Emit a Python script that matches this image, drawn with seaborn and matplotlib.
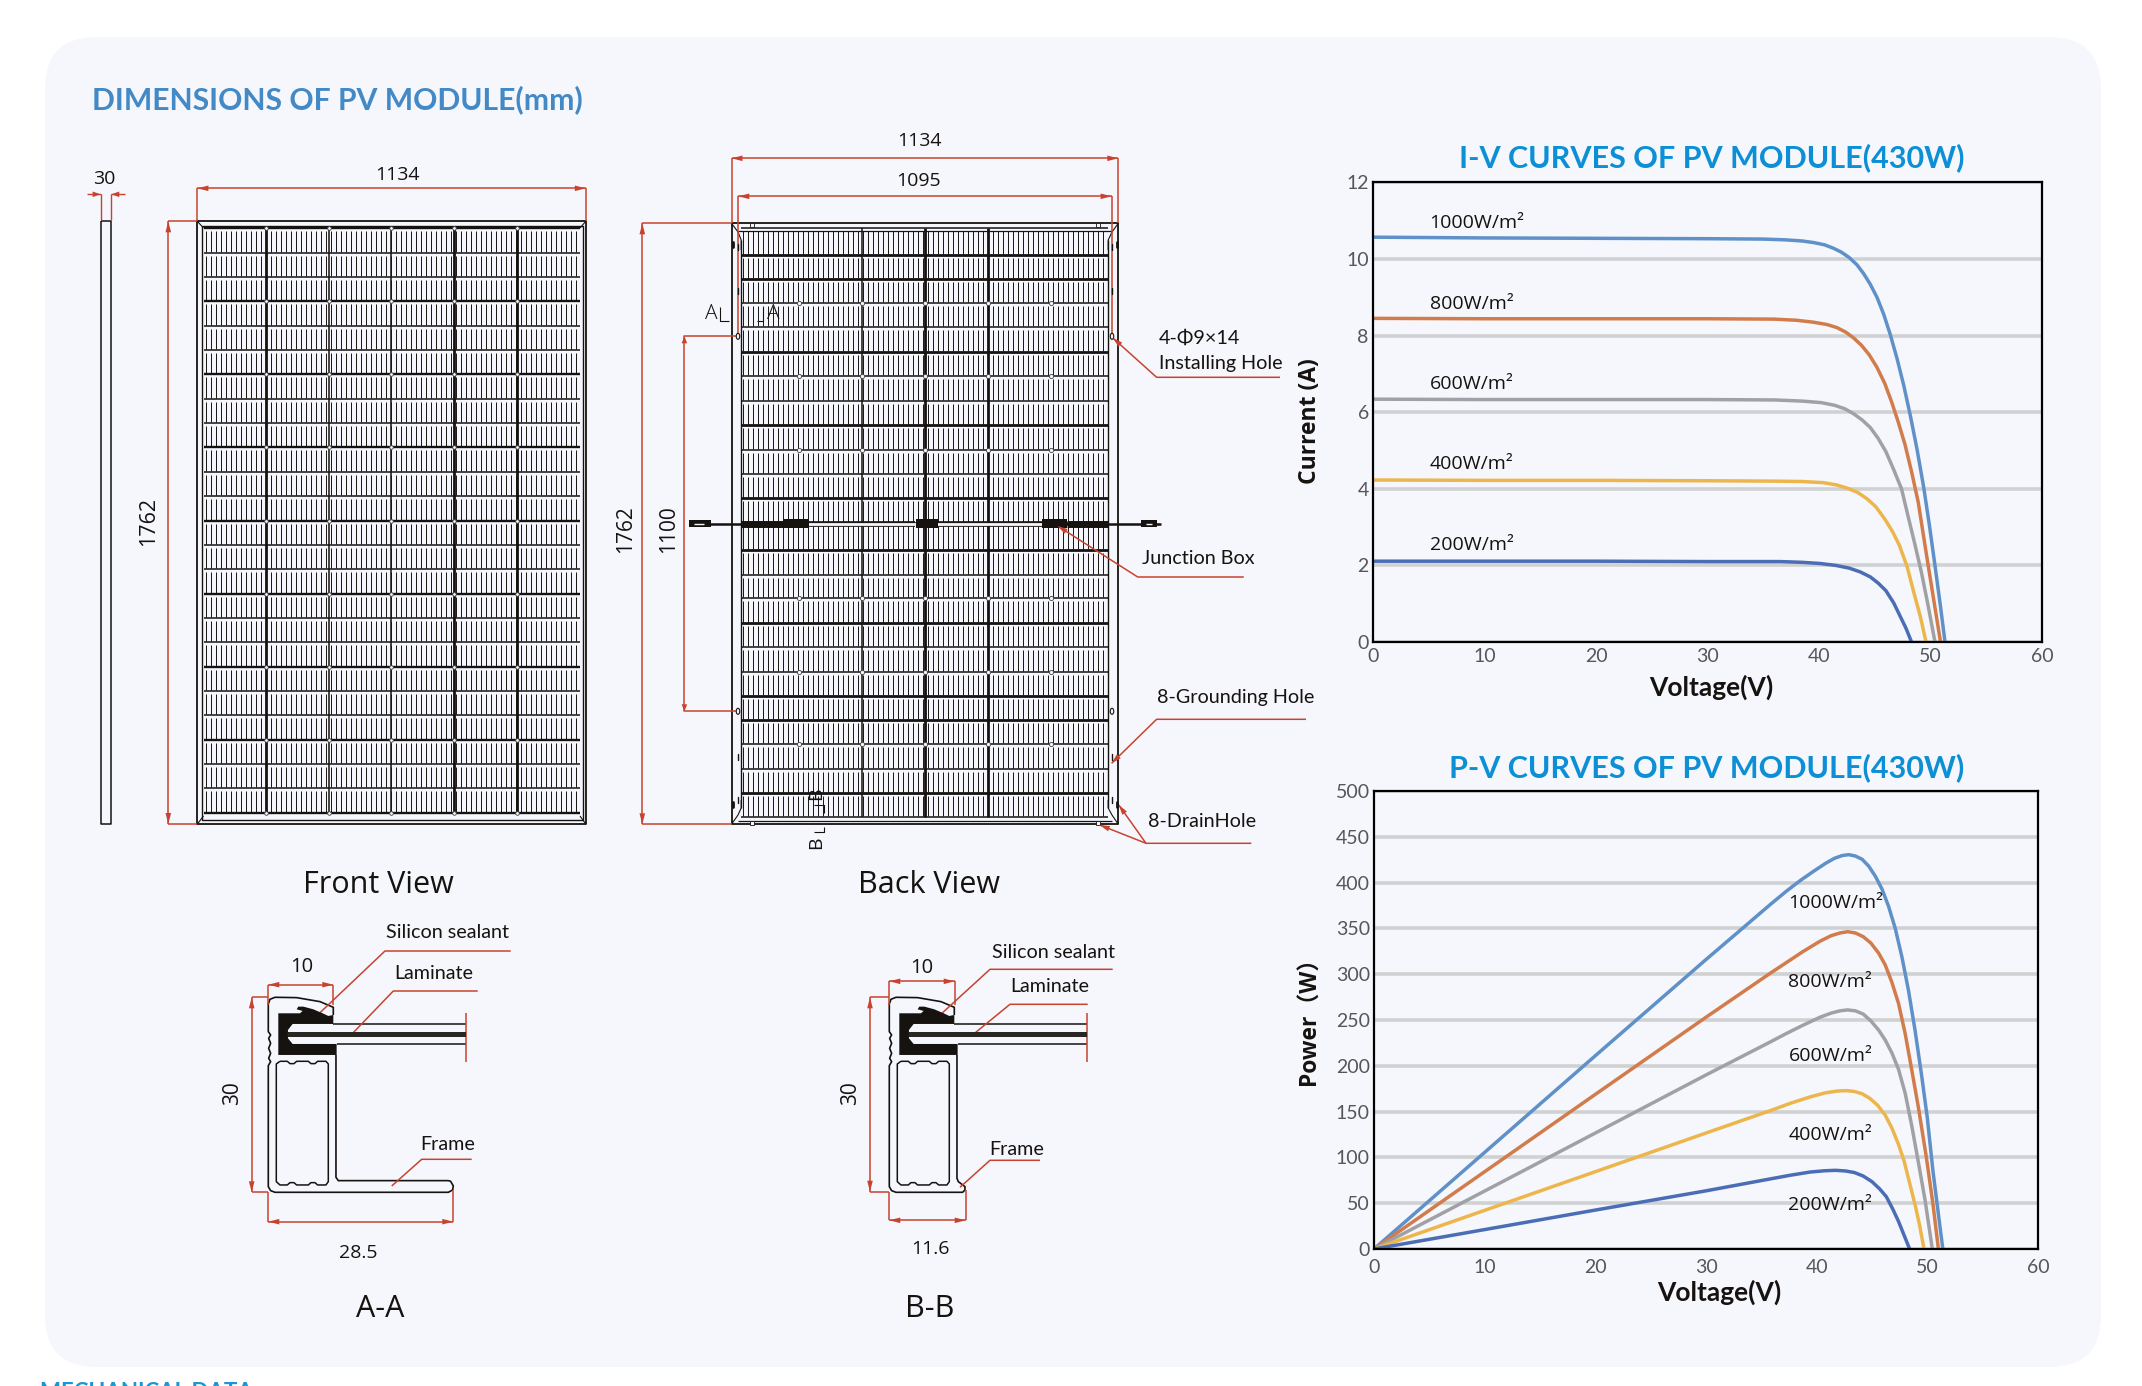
import numpy as np
import pandas as pd
import seaborn as sns
import matplotlib
matplotlib.use("Agg")
import matplotlib.pyplot as plt
from matplotlib.patches import FancyBboxPatch, Ellipse

# I-V curves
IRRADIANCE = ["1000W/m²", "800W/m²", "600W/m²", "400W/m²", "200W/m²"]
COLORS = ["#5f91c8", "#d27c4b", "#a0a1a4", "#edb64c", "#4b6db6"]

IV_V_1000 = [0, 10, 20, 30, 35, 37, 38.5, 39.5, 40.5, 41.3, 42, 42.7, 43.4, 44, 44.6, 45.2, 45.8, 46.4, 47, 47.6, 48.2, 48.8, 49.4, 49.9, 50.4, 50.9, 51.3]
IV_I_1000 = [10.57, 10.55, 10.54, 10.53, 10.52, 10.50, 10.47, 10.43, 10.37, 10.28, 10.18, 10.04, 9.85, 9.62, 9.34, 9.00, 8.56, 8.02, 7.40, 6.70, 5.90, 5.02, 4.02, 3.05, 2.0, 0.92, 0]
IV_V_800 = [0, 10, 20, 30, 36, 38, 39.5, 40.7, 41.6, 42.4, 43.1, 43.8, 44.5, 45.2, 45.9, 46.5, 47.1, 47.7, 48.3, 48.9, 49.6, 50.3, 50.9]
IV_I_800 = [8.45, 8.44, 8.44, 8.44, 8.43, 8.40, 8.35, 8.29, 8.21, 8.09, 7.94, 7.75, 7.50, 7.17, 6.75, 6.28, 5.75, 5.17, 4.45, 3.65, 2.35, 1.08, 0]
IV_V_600 = [0, 10, 20, 30, 36, 38.5, 40.2, 41.4, 42.3, 43.1, 43.9, 44.6, 45.3, 46, 46.7, 47.4, 48, 48.6, 49.2, 49.8, 50.4]
IV_I_600 = [6.34, 6.33, 6.33, 6.33, 6.32, 6.29, 6.25, 6.18, 6.09, 5.96, 5.79, 5.60, 5.32, 4.97, 4.50, 4.0, 3.27, 2.55, 1.80, 0.93, 0]
IV_V_400 = [0, 10, 20, 30, 36, 38.5, 40.4, 41.6, 42.6, 43.5, 44.3, 45.1, 45.9, 46.6, 47.2, 47.9, 48.5, 49.1, 49.6]
IV_I_400 = [4.23, 4.22, 4.22, 4.21, 4.20, 4.19, 4.16, 4.10, 4.01, 3.90, 3.74, 3.53, 3.21, 2.88, 2.53, 1.97, 1.30, 0.65, 0]
IV_V_200 = [0, 10, 20, 30, 36.5, 38.5, 40.1, 41.5, 42.7, 43.7, 44.6, 45.3, 46, 46.7, 47.3, 47.8, 48.3]
IV_I_200 = [2.11, 2.11, 2.11, 2.10, 2.10, 2.08, 2.05, 2.00, 1.93, 1.83, 1.70, 1.54, 1.34, 1.02, 0.66, 0.36, 0]

# P-V curves
PV_V_1000 = [0, 10, 20, 30, 33, 35.8, 37.3, 38.6, 39.8, 40.8, 41.6, 42.3, 42.9, 43.5, 44.1, 44.7, 45.3, 45.9, 46.5, 47.1, 47.7, 48.3, 48.9, 49.5, 50, 50.5, 51, 51.4]
PV_P_1000 = [0, 105.5, 211, 316, 347, 376, 391, 403, 413, 421, 426.5, 429.5, 430.5, 429, 425.5, 418, 407, 393, 374, 350, 319, 282, 238, 188, 143, 86, 38, 0]
PV_V_800 = [0, 10, 20, 30, 35.8, 37.3, 38.8, 40.3, 41.3, 42.1, 42.8, 43.5, 44.2, 44.9, 45.6, 46.2, 46.8, 47.4, 48, 48.6, 49.2, 49.9, 50.5, 51]
PV_P_800 = [0, 84.4, 168.8, 253, 301, 313, 325, 336, 342, 345, 346.4, 345, 341, 334, 323, 310, 291, 268, 235, 195, 154, 101, 50, 0]
PV_V_600 = [0, 10, 20, 30, 35.8, 37.3, 38.8, 40.3, 41.3, 42.1, 42.8, 43.5, 44.2, 44.9, 45.6, 46.2, 46.8, 47.4, 48, 48.6, 49.2, 49.8, 50.45]
PV_P_600 = [0, 63.3, 126.6, 190, 226, 235.5, 244.5, 253, 257.5, 260, 261, 260, 256.5, 249, 239, 228, 214, 196, 170, 134, 94, 53, 0]
PV_V_400 = [0, 10, 20, 30, 35.8, 37.6, 39.4, 40.8, 41.9, 42.7, 43.4, 44.1, 44.8, 45.5, 46.2, 46.8, 47.4, 47.9, 48.4, 48.9, 49.3, 49.7]
PV_P_400 = [0, 42.2, 84.4, 126.6, 151, 159, 166, 170.5, 172.5, 172.9, 172, 169.5, 164.5, 157, 146, 132, 114, 96, 72, 48, 26, 0]
PV_V_200 = [0, 10, 20, 30, 35.8, 37.6, 39.4, 40.7, 41.7, 42.6, 43.4, 44.2, 45, 45.7, 46.3, 46.9, 47.4, 47.9, 48.4]
PV_P_200 = [0, 21.2, 42.5, 63.5, 76.5, 80.5, 84, 85.4, 85.9, 85.2, 83.5, 79.7, 73.5, 65.5, 57, 43, 30, 15, 0]

IV_LABEL_X = 5.08
IV_LABEL_Y = [10.95, 8.83, 6.73, 4.66, 2.54]
PV_LABEL_X = 37.45
PV_LABEL_Y = [378, 291, 211, 124, 48.5]

RED = "#c8432f"
INK = "#161210"
PANEL = "#f5f7fc"
NARROW = ["Lato", "Open Sans", "DejaVu Sans"]
WIDE = ["Open Sans", "Noto Sans CJK SC", "DejaVu Sans"]

sns.set_theme(style="white")
plt.rcParams["font.family"] = WIDE
W, H = 2142, 1386
fig = plt.figure(figsize=(W / 100, H / 100), dpi=100, facecolor="white")

# whole-figure axes in pixels for the drawings
bg = fig.add_axes([0, 0, 1, 1])
bg.set_xlim(0, W)
bg.set_ylim(H, 0)
bg.axis("off")
bg.add_patch(FancyBboxPatch((45, 37), 2056, 1330, boxstyle="round,pad=0,rounding_size=52",
                            fc=PANEL, ec="none", lw=0))


def line(xs, ys, color=INK, lw=0.9, z=3):
    bg.plot(xs, ys, color=color, lw=lw, zorder=z, solid_capstyle="butt", solid_joinstyle="round")


def arrow(x, y, dx, dy, size=11, half=2.8):
    # tip at x, y pointing along dx, dy
    px, py = -dy, dx
    bx, by = x - dx * size, y - dy * size
    bg.fill([x, bx + px * half, bx - px * half], [y, by + py * half, by - py * half],
            color=RED, lw=0, zorder=5)


def dim_h(x0, x1, y, y_to0=None, y_to1=None):
    line([x0, x1], [y, y], RED, 1.1)
    arrow(x0, y, -1, 0)
    arrow(x1, y, 1, 0)
    if y_to0 is not None:
        line([x0, x0], [y, y_to0], RED, 1.1)
    if y_to1 is not None:
        line([x1, x1], [y, y_to1], RED, 1.1)


def dim_v(x, y0, y1, x_to=None):
    line([x, x], [y0, y1], RED, 1.1)
    arrow(x, y0, 0, -1)
    arrow(x, y1, 0, 1)
    if x_to is not None:
        line([x, x_to], [y0, y0], RED, 1.1)
        line([x, x_to], [y1, y1], RED, 1.1)


def label(x, y, s, size=14.2, ha="left", family=NARROW, rot=0, **kw):
    if rot == 0:
        y = y + 3  # va center counts the descender
    bg.text(x, y, s, fontsize=size, ha=ha, va="center", family=family, color=INK,
            rotation=rot, zorder=6, **kw)


def leader(pts, tips=True):
    xs, ys = zip(*pts)
    line(xs, ys, RED, 1.1)
    if tips:
        d = np.array(pts[0]) - np.array(pts[1])
        d = d / np.hypot(*d)
        arrow(pts[0][0], pts[0][1], d[0], d[1], size=10)


def cell_grid(x0, x1, rows, thick_rows, columns, thick_cols, pitch, heavy=1.8):
    # finger lines, broken at every cell row
    fingers = np.arange(x0 + 2, x1, pitch)
    for top, bot in zip(rows[:-1], rows[1:]):
        bg.vlines(fingers, top + 3, bot - 1, color=INK, lw=0.7, zorder=2)
    for y in rows:
        lw = heavy if y in thick_rows else 1.1
        line([x0, x1], [y, y], lw=lw)
    for x in columns:
        lw = 2.0 if x in thick_cols else 1.1
        line([x, x], [rows[0], rows[-1]], lw=lw)


# front view
F_L, F_R, F_T, F_B = 197.4, 585.8, 221.3, 824
front_rows = [228.3 + 24.35 * k for k in range(25)]
front_thick = front_rows[::3]
front_cols = [265.9, 328.7, 391.4, 454.2, 517.3]
line([F_L, F_R, F_R, F_L, F_L], [F_T, F_T, F_B, F_B, F_T], lw=1.3)
line([201.6, 583, 583, 201.6, 201.6], [226, 226, 819.5, 819.5, 226], lw=1.0)
for cx, cy, ex, ey in [(F_L, F_T, 203.5, 228), (F_R, F_T, 580, 228), (F_L, F_B, 203.5, 816), (F_R, F_B, 580, 816)]:
    line([cx, ex], [cy, ey], lw=0.8)
cell_grid(203.5, 579.7, front_rows, front_thick, front_cols, [265.9, 454.2, 517.3], 5.0, heavy=1.7)
for y in front_rows[::3]:
    bg.plot(front_cols, [y] * 5, ls="", marker="o", ms=2.6, mfc=PANEL, mec="#444444", mew=0.6, zorder=4)

# side view
line([100.6, 111.3, 111.3, 100.6, 100.6], [F_T, F_T, F_B, F_B, F_T], lw=1.1)
line([87, 100.6], [194.3, 194.3], RED, 1.0)
line([111.3, 125], [194.3, 194.3], RED, 1.0)
arrow(100.6, 194.3, 1, 0, size=8)
arrow(111.3, 194.3, -1, 0, size=8)
line([100.6, 100.6], [194.3, 220], RED, 1.0)
line([111.3, 111.3], [194.3, 220], RED, 1.0)
label(104, 175.7, "30", 14, "center", WIDE)

dim_h(F_L, F_R, 188.3, F_T, F_T)
label(397.5, 172, "1134", 14, "center", WIDE)
dim_v(168.3, F_T, F_B, F_L)
label(149, 522, "1762", 15.5, "center", WIDE, rot=90)
label(378.5, 882, "Front View", 22, "center", WIDE)

# back view
B_L, B_R, B_T, B_B = 731.5, 1118.3, 223.3, 824.3
back_rows = [228, 255, 279, 303.3, 327.3, 351.7, 376.3, 400.7, 425, 449.7, 474, 498.3, 523.3, 550,
             574.7, 598.3, 623, 647.3, 671.7, 696, 720, 744.3, 768.7, 793.3, 817.3]
back_thick = [255, 279, 351.7, 425, 498.3, 550, 623, 696, 720, 793.3]
back_cols = [799.3, 862, 924.7, 987.9, 1050.6]
line([B_L, B_R, B_R, B_L, B_L], [B_T, B_T, B_B, B_B, B_T], lw=1.3)
line([741.2, 741.2], [240, 808], lw=1.0)
line([1108.2, 1108.2], [240, 808], lw=1.0)
line([738, 1112], [231, 231], lw=0.9)
line([738, 1112], [820.5, 820.5], lw=0.9)
line([B_L, 738, 741.2, 741.2], [B_T, 232, 240, 250], lw=0.8)
line([B_R, 1112, 1108.2, 1108.2], [B_T, 232, 240, 250], lw=0.8)
line([B_L, 738, 741.2, 741.2], [B_B, 815, 808, 800], lw=0.8)
line([B_R, 1112, 1108.2, 1108.2], [B_B, 815, 808, 800], lw=0.8)
cell_grid(741.2, 1108.2, back_rows, back_thick, back_cols[1:-1], back_cols[2:4], 5.0, heavy=2.0)
for y in [303.3, 376.3, 449.7, 598.3, 671.7, 744.3]:
    bg.plot(back_cols, [y] * 5, ls="", marker="o", ms=3, mfc=PANEL, mec="#444444", mew=0.6, zorder=4)

# mounting holes, drain holes, grounding marks
for hx in (738, 1112):
    for hy in (336.3, 711.3):
        bg.add_patch(Ellipse((hx, hy), 3.5, 6, fc=PANEL, ec=INK, lw=0.8, zorder=4))
    for my in (247, 291, 757, 800):
        bg.plot([hx, hx], [my - 3, my + 3], color=INK, lw=1.0, zorder=4)
for dx in (751.8, 1097.7):
    for dy in (224.9, 823):
        bg.plot(dx, dy, ls="", marker="s", ms=2.4, mfc=PANEL, mec=INK, mew=0.6, zorder=4)
for sx in (732.5, 1117.3):
    for sy in (244, 804):
        bg.plot([sx, sx], [sy - 2.5, sy + 2.5], color=INK, lw=2.0, zorder=4)

# cable and junction boxes
line([688.6, 1161], [523.7, 523.7], lw=1.8, z=4)
line([741, 783], [523.7, 523.7], lw=5, z=4)
line([1067, 1108], [523.7, 523.7], lw=5, z=4)
line([808, 915], [521.5, 521.5], lw=1.2, z=4)
line([808, 915], [526, 526], lw=1.2, z=4)
line([938, 1042], [521.5, 521.5], lw=1.2, z=4)
line([938, 1042], [526, 526], lw=1.2, z=4)
line([808, 1042], [523.7, 523.7], PANEL, 2.0, z=4)
for jx0, jx1 in [(783.3, 808.6), (915.5, 937.8), (1042, 1067.4)]:
    bg.fill([jx0, jx1, jx1, jx0], [519, 519, 528.3, 528.3], color=INK, lw=0, zorder=5)
bg.fill([688.6, 710.5, 710.5, 688.6], [520, 520, 527.3, 527.3], color=INK, lw=0, zorder=5)
bg.fill([1141, 1156.6, 1156.6, 1141], [520, 520, 527.3, 527.3], color=INK, lw=0, zorder=5)
line([694, 704], [523.7, 523.7], PANEL, 1.0, z=6)
line([1146, 1152], [523.7, 523.7], PANEL, 1.0, z=6)

dim_h(B_L, B_R, 158.3, B_T, B_T)
dim_h(738.3, 1111.6, 196.3, 333, 333)
label(919.7, 138.5, "1134", 14, "center", WIDE)
label(919, 178.5, "1095", 14, "center", WIDE)
line([642.3, B_L], [B_T, B_T], RED, 1.1)
line([642.3, B_L], [B_B, B_B], RED, 1.1)
line([642.3, 642.3], [B_T, B_B], RED, 1.1)
arrow(642.3, B_T, 0, -1)
arrow(642.3, B_B, 0, 1)
label(625.6, 529.5, "1762", 15, "center", WIDE, rot=90)
line([736, 684.4, 684.4, 736], [336.3, 336.3, 711.3, 711.3], RED, 1.1)
arrow(684.4, 336.3, 0, -1, size=7)
arrow(684.4, 711.3, 0, 1, size=7)
label(669, 529, "1100", 15, "center", WIDE, rot=90)

# section markers
label(711, 311, "A", 15, "center", WIDE, fontweight="light")
label(772.8, 311, "A", 15, "center", WIDE, fontweight="light")
line([720, 720, 728.6], [306.7, 321, 321], lw=0.8)
line([757, 763, 763], [321, 321, 306.7], lw=0.8)
label(815.7, 793.3, "B", 14, "center", WIDE, rot=90)
label(815.7, 842.3, "B", 14, "center", WIDE, rot=90)
line([813.6, 824, 824], [805, 805, 813], lw=0.8)
line([813.6, 824, 824], [832, 832, 826.7], lw=0.8)

# call-outs, back view
label(1158.7, 335, "4-Φ9×14")
label(1158.7, 361, "Installing Hole")
leader([(1112.9, 338), (1156.6, 377.3), (1280, 377.3)])
label(1142, 555, "Junction Box")
leader([(1057.7, 526), (1137.7, 577), (1243.8, 577)])
label(1156.6, 694, "8-Grounding Hole")
leader([(1111.6, 763.3), (1156.6, 719.3), (1306, 719.3)])
label(1148.2, 818.5, "8-DrainHole")
leader([(1118.8, 805), (1146, 843.3), (1251.3, 843.3)])
leader([(1099.8, 825), (1146, 843.3)])
label(929.5, 882, "Back View", 22, "center", WIDE)

# frame sections, outlines in crop pixels of section A
WALL = [(400, 345), (400, 322), (360, 305), (290, 293), (225, 292), (210, 298), (205, 312), (205, 395),
        (212, 405), (206, 415), (212, 430), (206, 445), (212, 460), (206, 475), (212, 485), (205, 497),
        (205, 860), (212, 872), (225, 877)]
FLANGE_A = [(745, 877), (758, 870), (760, 858), (752, 844), (745, 842), (415, 842), (408, 832), (408, 465)]
FLANGE_B = [(425, 877), (432, 870), (432, 860), (412, 845), (408, 835), (408, 465)]
HOLLOW = [(240, 484), (262, 484), (270, 491), (282, 491), (290, 484), (325, 484), (333, 491), (345, 491),
          (353, 484), (378, 484), (385, 492), (385, 845), (378, 855), (353, 855), (345, 848), (333, 848),
          (325, 855), (290, 855), (282, 848), (270, 848), (262, 855), (240, 855), (229, 845), (229, 492),
          (240, 484)]
SEALANT = [(235, 340), (300, 340), (308, 333), (290, 328), (295, 320), (310, 320), (340, 328), (368, 340),
           (385, 348), (400, 345), (400, 372), (278, 372), (264, 390), (264, 415), (278, 432), (410, 432),
           (410, 465), (235, 465)]


def section(x0, y0, flange):
    def conv(pts):
        a = np.array(pts, dtype=float)
        return x0 + (a[:, 0] - 205) / 3, y0 + (a[:, 1] - 292) / 3

    line(*conv(WALL + flange), lw=1.2)
    line(*conv(HOLLOW), lw=1.1)
    sx, sy = conv(SEALANT)
    bg.fill(sx, sy, color=INK, lw=0, zorder=4)
    line(*conv([(400, 373), (798, 373)]), lw=1.1)
    line(*conv([(410, 433), (798, 433)]), lw=1.1)
    bx, by = conv([(264, 395), (798, 395), (798, 412), (264, 412)])
    bg.fill(bx, by, color="#2a2624", lw=0, zorder=4)
    line(*conv([(799, 340), (799, 485)]), RED, 1.1)


section(268.3, 997.3, FLANGE_A)
section(889.3, 997.3, FLANGE_B)

dim_h(268.3, 333.3, 984.7, 1005, 1005)
label(301.3, 964, "10", 14.5, "center", WIDE)
dim_v(251.7, 997.3, 1192.3, 268)
label(233, 1093, "30", 15, "center", WIDE, rot=90)
dim_h(268.3, 453.3, 1221.7, 1192, 1190)
label(358, 1250, "28.5", 14, "center", WIDE)
label(380, 1306, "A-A", 22, "center", WIDE)
label(447.7, 930, "Silicon sealant", ha="center")
leader([(312.3, 1020), (385, 951), (510.7, 951)], tips=False)
label(434, 970.3, "Laminate", ha="center")
leader([(351.7, 1034.3), (393.3, 991), (477.7, 991)], tips=False)
label(447.7, 1142, "Frame", ha="center")
leader([(391.7, 1186), (421.7, 1159.3), (471.7, 1159.3)], tips=False)

dim_h(889.3, 954.7, 981.3, 1005, 1005)
label(922, 965.3, "10", 14.5, "center", WIDE)
dim_v(870, 997.3, 1191.7, 889)
label(851, 1093.3, "30", 15, "center", WIDE, rot=90)
dim_h(889.3, 965.7, 1220.3, 1192, 1190)
label(930, 1246, "11.6", 14, "center", WIDE)
label(930, 1306, "B-B", 22, "center", WIDE)
label(1054, 949, "Silicon sealant", ha="center")
leader([(936, 1018.7), (990, 969.3), (1112.7, 969.3)], tips=False)
label(1050, 984, "Laminate", ha="center")
leader([(975.3, 1032.7), (1010, 1004.3), (1087.7, 1004.3)], tips=False)
label(1017, 1146.7, "Frame", ha="center")
leader([(960, 1187.3), (990, 1160.3), (1040, 1160.3)], tips=False)

bg.text(91.5, 100, "DIMENSIONS OF PV MODULE(mm)", fontsize=21.7, fontweight="bold", color="#4389c6",
        family=NARROW, va="center")
bg.text(40, 1399, "MECHANICAL DATA", fontsize=16, fontweight="bold", color="#1a95d8",
        family=NARROW, va="baseline")


def curve_frame(series, yname):
    frames = []
    for name, (xs, ys) in zip(IRRADIANCE, series):
        frames.append(pd.DataFrame({"voltage": xs, yname: ys, "irradiance": name}))
    return pd.concat(frames, ignore_index=True)


def curve_axes(box, df, yname, yticks, title, title_x, title_y, ylabel, ylabel_y, xlabel_x, xlabel_y, xpad):
    x0, y0, x1, y1 = box
    ax = fig.add_axes([x0 / W, 1 - y1 / H, (x1 - x0) / W, (y1 - y0) / H], facecolor="none")
    sns.lineplot(data=df, x="voltage", y=yname, hue="irradiance", hue_order=IRRADIANCE, palette=COLORS,
                 estimator=None, sort=False, lw=2.5, legend=False, ax=ax, zorder=3)
    ax.set_xlim(0, 60)
    ax.set_ylim(yticks[0], yticks[-1])
    ax.set_xticks(range(0, 61, 10))
    ax.set_yticks(yticks)
    ax.grid(axis="y", color="#d0d1d3", lw=2.6)
    ax.grid(axis="x", visible=False)
    ax.set_axisbelow(True)
    ax.tick_params(length=0, labelsize=14, labelcolor="#55565a", pad=xpad, axis="x")
    ax.tick_params(length=0, labelsize=14, labelcolor="#55565a", pad=3, axis="y")
    for t in ax.get_xticklabels() + ax.get_yticklabels():
        t.set_family(NARROW)
    for s in ax.spines.values():
        s.set_visible(True)
        s.set_color("black")
        s.set_linewidth(1.6)
        s.set_zorder(5)
    ax.set_title(title, x=(title_x - x0) / (x1 - x0), y=(y1 - title_y) / (y1 - y0), va="center", pad=0,
                 fontsize=22, fontweight="bold", color="#0d8fd6", family=NARROW)
    ax.set_xlabel("Voltage(V)", fontsize=19, fontweight="bold", color=INK, family=NARROW, va="center")
    ax.xaxis.set_label_coords((xlabel_x - x0) / (x1 - x0), (y1 - xlabel_y) / (y1 - y0))
    ax.set_ylabel(ylabel, fontsize=16.5, fontweight="bold", color=INK, family=WIDE, va="center")
    ax.yaxis.set_label_coords((1310 - x0) / (x1 - x0), (y1 - ylabel_y) / (y1 - y0))
    return ax


iv_df = curve_frame([(IV_V_1000, IV_I_1000), (IV_V_800, IV_I_800), (IV_V_600, IV_I_600),
                     (IV_V_400, IV_I_400), (IV_V_200, IV_I_200)], "current")
pv_df = curve_frame([(PV_V_1000, PV_P_1000), (PV_V_800, PV_P_800), (PV_V_600, PV_P_600),
                     (PV_V_400, PV_P_400), (PV_V_200, PV_P_200)], "power")

ax_iv = curve_axes((1373, 182.4, 2042, 642), iv_df, "current", list(range(0, 13, 2)),
                   "I-V CURVES OF PV MODULE(430W)", 1712, 158, "Current (A)", 421, 1711, 687, 4)
ax_pv = curve_axes((1374, 791, 2038, 1249), pv_df, "power", list(range(0, 501, 50)),
                   "P-V CURVES OF PV MODULE(430W)", 1707, 768, "Power（W）", 1015, 1719, 1292, 7)

for name, y in zip(IRRADIANCE, IV_LABEL_Y):
    ax_iv.text(IV_LABEL_X, y, name, fontsize=14, color=INK, va="center", family=WIDE)
for name, y in zip(IRRADIANCE, PV_LABEL_Y):
    ax_pv.text(PV_LABEL_X, y, name, fontsize=14, color=INK, va="center", family=WIDE)

fig.savefig("out.png", dpi=100, facecolor="white")
